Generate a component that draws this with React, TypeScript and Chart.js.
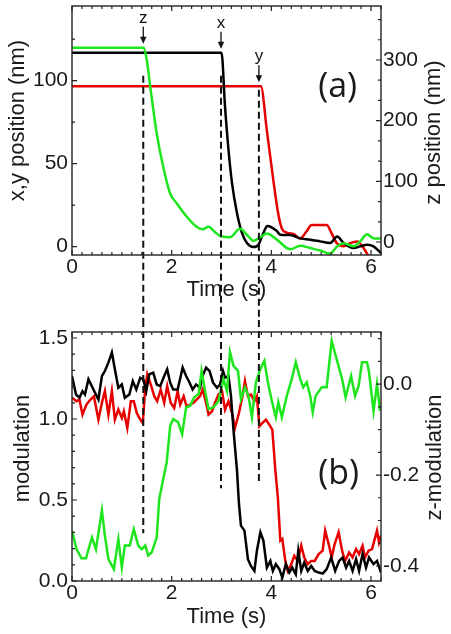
import React, { useEffect, useRef } from 'react';
import { Chart, registerables } from 'chart.js';

Chart.register(...registerables);

type Pt = [number, number];

// ---------------- axis ticks ----------------
const TIME_TICKS = [0, 2, 4, 6];
const XY_TICKS = [0, 50, 100];
const Z_TICKS = [0, 100, 200, 300];
const MOD_TICKS = [0, 0.5, 1.0, 1.5];
const ZMOD_TICKS = [-0.4, -0.2, 0.0];

// ---------------- events (arrows + dashed markers) ----------------
const EVENT_LABELS = ['z', 'x', 'y'];
const EVENT_TIMES = [1.43, 2.99, 3.75];
const EVENT_AXES = ['yr', 'yl', 'yl'];
const EVENT_LEVELS = [320, 116.8, 96.6];
const EVENT_START_XY = [103, 103, 94.6];
const EVENT_END_MOD = [0.294, 0.572, 0.609];

// ---------------- panel (a): positions ----------------
const A_X: Pt[] = [[0, 116.8], [3.0, 116.8], [3.07, 84.5], [3.14, 58.4], [3.21, 38.4], [3.31, 20.3], [3.41, 8.3], [3.51, 2.2], [3.64, -0.2], [3.74, 1.2], [3.84, 8.3], [3.92, 12.5], [4.11, 9.5], [4.18, 7.2], [4.38, 7.0], [4.58, 5.0], [4.78, 4.2], [4.98, 3.2], [5.18, 2.2], [5.32, 6.2], [5.45, 2.2], [5.65, -0.8], [5.78, 0.2], [5.92, 1.2], [6.05, 0.2], [6.2, -3.8]];
const A_Y: Pt[] = [[0, 96.6], [3.79, 96.6], [3.91, 70], [4.04, 40], [4.14, 19.5], [4.21, 11], [4.31, 8.5], [4.45, 7.5], [4.58, 5], [4.70, 9], [4.81, 13], [5.11, 13], [5.21, 8], [5.31, 2.2], [5.45, 0.2], [5.58, 2.2], [5.72, 3.2], [5.85, -0.8], [5.95, -5.8], [6.05, -12]];
const A_Z: Pt[] = [[0, 320], [1.44, 320], [1.50, 300], [1.57, 256], [1.70, 179], [1.83, 124], [1.97, 80], [2.10, 64], [2.30, 42], [2.50, 25], [2.62, 21], [2.74, 25], [2.86, 17], [3.0, 9], [3.17, 8], [3.37, 22], [3.51, 12], [3.64, 2], [3.78, 8], [3.91, 14], [4.11, 4], [4.38, -12], [4.58, -6], [4.78, -10], [4.98, -14], [5.18, -19], [5.31, -8], [5.45, -2], [5.65, -7], [5.78, 1], [5.92, 13], [6.05, 6], [6.2, 6]];

// ---------------- panel (b): modulation ----------------
const B_X: Pt[] = [[0, 1.265], [0.08, 1.151], [0.15, 1.131], [0.21, 1.172], [0.26, 1.151], [0.33, 1.245], [0.43, 1.182], [0.53, 1.120], [0.60, 1.265], [0.66, 1.296], [0.73, 1.348], [0.80, 1.411], [0.86, 1.307], [0.93, 1.193], [1.0, 1.213], [1.06, 1.131], [1.15, 1.151], [1.22, 1.234], [1.29, 1.182], [1.37, 1.255], [1.43, 1.245], [1.49, 1.172], [1.55, 1.276], [1.63, 1.286], [1.70, 1.213], [1.77, 1.203], [1.85, 1.265], [1.91, 1.307], [1.97, 1.224], [2.03, 1.182], [2.12, 1.182], [2.22, 1.317], [2.29, 1.265], [2.36, 1.224], [2.42, 1.182], [2.49, 1.213], [2.57, 1.193], [2.62, 1.265], [2.69, 1.317], [2.76, 1.296], [2.83, 1.224], [2.91, 1.193], [2.97, 1.213], [3.03, 1.296], [3.07, 1.255], [3.14, 1.265], [3.19, 1.141], [3.24, 0.933], [3.31, 0.684], [3.35, 0.477], [3.39, 0.342], [3.46, 0.311], [3.53, 0.135], [3.59, 0.093], [3.66, 0.062], [3.71, 0.187], [3.78, 0.301], [3.84, 0.249], [3.91, 0.083], [3.98, 0.124], [4.03, 0.062], [4.09, 0.104], [4.16, 0.073], [4.22, 0.021], [4.29, 0.104], [4.36, 0.052], [4.42, 0.083], [4.49, 0.042], [4.54, 0.187], [4.60, 0.062], [4.66, 0.114], [4.73, 0.062], [4.80, 0.093], [4.87, 0.062], [4.95, 0.052], [5.03, 0.046], [5.11, 0.073], [5.20, 0.145], [5.28, 0.062], [5.36, 0.124], [5.43, 0.145], [5.50, 0.083], [5.56, 0.124], [5.63, 0.062], [5.70, 0.135], [5.76, 0.062], [5.83, 0.166], [5.90, 0.083], [5.96, 0.145], [6.05, 0.104], [6.12, 0.124], [6.2, 0.052]];
const B_Y: Pt[] = [[0, 1.131], [0.09, 1.110], [0.15, 1.120], [0.21, 1.027], [0.29, 1.089], [0.37, 1.120], [0.44, 1.141], [0.53, 0.996], [0.60, 1.100], [0.66, 1.172], [0.73, 1.027], [0.80, 1.172], [0.86, 0.996], [0.93, 1.058], [1.0, 1.006], [1.04, 1.048], [1.11, 0.944], [1.18, 1.110], [1.24, 1.110], [1.30, 1.037], [1.37, 0.996], [1.42, 0.975], [1.47, 1.193], [1.51, 1.276], [1.58, 1.213], [1.65, 1.141], [1.71, 1.110], [1.78, 1.182], [1.85, 1.100], [1.91, 1.203], [1.98, 1.100], [2.05, 1.068], [2.12, 1.172], [2.17, 1.089], [2.24, 1.141], [2.30, 1.078], [2.37, 1.089], [2.44, 1.100], [2.50, 1.120], [2.57, 1.141], [2.62, 1.182], [2.69, 1.100], [2.74, 1.027], [2.81, 1.048], [2.87, 1.100], [2.94, 1.151], [3.01, 1.172], [3.07, 1.058], [3.14, 1.110], [3.21, 1.037], [3.27, 0.944], [3.35, 1.037], [3.42, 1.141], [3.47, 1.234], [3.53, 1.141], [3.59, 1.151], [3.66, 1.110], [3.71, 1.141], [3.76, 0.954], [3.82, 0.975], [3.89, 0.996], [3.96, 0.965], [4.02, 0.933], [4.08, 0.684], [4.13, 0.518], [4.18, 0.249], [4.22, 0.260], [4.28, 0.124], [4.33, 0.062], [4.40, 0.104], [4.46, 0.156], [4.53, 0.124], [4.60, 0.218], [4.66, 0.145], [4.73, 0.104], [4.80, 0.124], [4.87, 0.124], [4.95, 0.166], [5.03, 0.187], [5.08, 0.311], [5.15, 0.228], [5.21, 0.145], [5.27, 0.228], [5.35, 0.301], [5.42, 0.187], [5.48, 0.124], [5.56, 0.176], [5.63, 0.145], [5.70, 0.197], [5.76, 0.166], [5.83, 0.218], [5.88, 0.145], [5.95, 0.187], [6.02, 0.197], [6.12, 0.311], [6.16, 0.238], [6.2, 0.280]];
const B_Z: Pt[] = [[0, -0.322], [0.09, -0.363], [0.19, -0.383], [0.28, -0.383], [0.40, -0.337], [0.48, -0.363], [0.60, -0.278], [0.66, -0.333], [0.73, -0.385], [0.84, -0.407], [0.93, -0.341], [1.0, -0.403], [1.06, -0.355], [1.16, -0.355], [1.24, -0.319], [1.33, -0.355], [1.40, -0.363], [1.47, -0.355], [1.53, -0.377], [1.60, -0.370], [1.70, -0.337], [1.75, -0.253], [1.83, -0.209], [1.90, -0.172], [1.97, -0.092], [2.03, -0.077], [2.13, -0.084], [2.21, -0.110], [2.29, -0.051], [2.37, -0.048], [2.45, -0.029], [2.54, -0.022], [2.60, 0.029], [2.67, -0.015], [2.74, -0.055], [2.84, -0.051], [2.94, -0.037], [3.04, 0.011], [3.11, -0.015], [3.17, 0.070], [3.24, 0.040], [3.33, 0.029], [3.39, -0.033], [3.47, -0.007], [3.54, -0.026], [3.61, -0.073], [3.69, 0.004], [3.78, 0.033], [3.86, 0.051], [3.93, 0.004], [4.01, -0.037], [4.09, -0.073], [4.14, -0.040], [4.21, -0.073], [4.31, -0.026], [4.41, 0.011], [4.49, 0.048], [4.58, 0.011], [4.64, -0.007], [4.71, 0.004], [4.78, -0.026], [4.83, -0.062], [4.89, -0.026], [4.96, -0.015], [5.01, -0.007], [5.11, -0.007], [5.21, 0.095], [5.31, 0.055], [5.42, 0.011], [5.49, -0.029], [5.60, 0.018], [5.68, -0.026], [5.75, -0.004], [5.82, 0.048], [5.92, 0.048], [5.96, 0.026], [6.05, -0.059], [6.12, 0.0], [6.18, -0.059]];

// ---------------- styles ----------------
const BLACK = '#000000';
const RED = '#e60000';
const GREEN = '#1ee61e';
const INK = '#1a1a1a';
const SANS = '"Liberation Sans", Arial, sans-serif';
const TICK_FONT = { family: SANS, size: 21 };
const TITLE_FONT = { family: SANS, size: 22 };
const W = 451;
const H_A = 320;
const H_B = 314;

function minorValues(min: number, max: number, step: number): number[] {
  const out: number[] = [];
  const start = Math.ceil(min / step - 1e-9);
  for (let k = start; k * step <= max + 1e-9; k++) out.push(k * step);
  return out;
}

function vText(ctx: CanvasRenderingContext2D, text: string, x: number, y: number) {
  ctx.save();
  ctx.translate(x, y);
  ctx.rotate(-Math.PI / 2);
  ctx.font = `22px ${SANS}`;
  ctx.fillStyle = INK;
  ctx.textAlign = 'center';
  ctx.textBaseline = 'middle';
  ctx.fillText(text, 0, 0);
  ctx.restore();
}

function frameAndTicks(chart: any, steps: { x: number; yl: number; yr: number }) {
  const { ctx, chartArea } = chart;
  const { left, right, top, bottom } = chartArea;
  const sx = chart.scales.x, yl = chart.scales.yl, yr = chart.scales.yr;
  const MAJ = 5, MIN = 3;
  ctx.save();
  ctx.strokeStyle = '#222';
  ctx.lineWidth = 1.2;
  ctx.beginPath();
  const seg = (x1: number, y1: number, x2: number, y2: number) => { ctx.moveTo(x1, y1); ctx.lineTo(x2, y2); };
  for (const v of minorValues(sx.min, sx.max, steps.x)) {
    const p = sx.getPixelForValue(v);
    seg(p, bottom, p, bottom - MIN); seg(p, top, p, top + MIN);
  }
  for (const t of sx.ticks) {
    const p = sx.getPixelForValue(t.value);
    seg(p, bottom, p, bottom - MAJ); seg(p, top, p, top + MAJ);
  }
  for (const v of minorValues(yl.min, yl.max, steps.yl)) {
    const p = yl.getPixelForValue(v); seg(left, p, left + MIN, p);
  }
  for (const t of yl.ticks) {
    const p = yl.getPixelForValue(t.value); seg(left, p, left + MAJ, p);
  }
  for (const v of minorValues(yr.min, yr.max, steps.yr)) {
    const p = yr.getPixelForValue(v); seg(right, p, right - MIN, p);
  }
  for (const t of yr.ticks) {
    const p = yr.getPixelForValue(t.value); seg(right, p, right - MAJ, p);
  }
  ctx.stroke();
  ctx.lineWidth = 1.4;
  ctx.strokeRect(left, top, right - left, bottom - top);
  ctx.restore();
}

function dashed(ctx: CanvasRenderingContext2D, x: number, y0: number, y1: number) {
  ctx.save();
  ctx.strokeStyle = '#111';
  ctx.lineWidth = 2;
  ctx.setLineDash([7, 4]);
  ctx.beginPath();
  ctx.moveTo(x, y0);
  ctx.lineTo(x, y1);
  ctx.stroke();
  ctx.restore();
}

const decorA = {
  id: 'decorA',
  afterDatasetsDraw(chart: any) {
    const { ctx } = chart;
    const sx = chart.scales.x, yl = chart.scales.yl;
    EVENT_TIMES.forEach((t, i) => {
      const x = sx.getPixelForValue(t);
      dashed(ctx, x, yl.getPixelForValue(EVENT_START_XY[i]), chart.height);
      const tip = chart.scales[EVENT_AXES[i]].getPixelForValue(EVENT_LEVELS[i]) - 4;
      ctx.save();
      ctx.strokeStyle = '#111';
      ctx.fillStyle = '#111';
      ctx.lineWidth = 1.3;
      ctx.beginPath();
      ctx.moveTo(x, tip - 17);
      ctx.lineTo(x, tip - 6);
      ctx.stroke();
      ctx.beginPath();
      ctx.moveTo(x - 3.2, tip - 7);
      ctx.lineTo(x + 3.2, tip - 7);
      ctx.lineTo(x, tip);
      ctx.closePath();
      ctx.fill();
      ctx.font = `17px ${SANS}`;
      ctx.textAlign = 'center';
      ctx.textBaseline = 'alphabetic';
      ctx.fillText(EVENT_LABELS[i], x, tip - 21);
      ctx.restore();
    });
    ctx.save();
    ctx.font = `34px "Open Sans", sans-serif`;
    ctx.fillStyle = INK;
    ctx.textAlign = 'center';
    ctx.textBaseline = 'middle';
    ctx.fillText('(a)', sx.getPixelForValue(5.33), yl.getPixelForValue(96));
    ctx.restore();
  },
  afterDraw(chart: any) {
    frameAndTicks(chart, { x: 0.2, yl: 25, yr: 100 / 3 });
    const { top, bottom } = chart.chartArea;
    const mid = (top + bottom) / 2;
    vText(chart.ctx, 'x,y position (nm)', 18, mid - 10);
    vText(chart.ctx, 'z position (nm)', 433.5, mid + 2);
  },
};

const decorB = {
  id: 'decorB',
  afterDatasetsDraw(chart: any) {
    const { ctx } = chart;
    const sx = chart.scales.x, yl = chart.scales.yl;
    EVENT_TIMES.forEach((t, i) => {
      dashed(ctx, sx.getPixelForValue(t), 0, yl.getPixelForValue(EVENT_END_MOD[i]));
    });
    ctx.save();
    ctx.font = `34px "Open Sans", sans-serif`;
    ctx.fillStyle = INK;
    ctx.textAlign = 'center';
    ctx.textBaseline = 'middle';
    ctx.fillText('(b)', sx.getPixelForValue(5.35), yl.getPixelForValue(0.66));
    ctx.restore();
  },
  afterDraw(chart: any) {
    frameAndTicks(chart, { x: 0.2, yl: 0.1, yr: 0.05 });
    const { top, bottom } = chart.chartArea;
    const mid = (top + bottom) / 2;
    vText(chart.ctx, 'modulation', 22.5, mid - 8);
    vText(chart.ctx, 'z-modulation', 435, mid + 1);
  },
};

function fixedTicks(values: number[]) {
  return (scale: any) => { scale.ticks = values.map((v) => ({ value: v })); };
}

function buildConfig(p: {
  series: { data: Pt[]; color: string; axis: string }[];
  smooth: boolean;
  padTop: number; padBottom: number; xHeight: number;
  yl: { min: number; max: number; ticks: number[]; fmt: (v: number) => string };
  yr: { min: number; max: number; ticks: number[]; fmt: (v: number) => string };
  plugin: any;
}) {
  const yBase = (side: 'left' | 'right', cfg: any, width: number) => ({
    type: 'linear',
    position: side,
    min: cfg.min,
    max: cfg.max,
    grid: { display: false, drawTicks: false },
    border: { display: false },
    title: { display: false },
    ticks: { font: TICK_FONT, color: INK, padding: side === 'left' ? 4 : 2, callback: (v: any) => cfg.fmt(Number(v)) },
    afterBuildTicks: fixedTicks(cfg.ticks),
    afterFit: (s: any) => { s.width = width; s.paddingTop = 0; s.paddingBottom = 0; },
  });
  return {
    type: 'line',
    data: {
      datasets: p.series.map((s) => ({
        data: s.data.map(([x, y]) => ({ x, y })),
        borderColor: s.color,
        borderWidth: 2.5,
        pointRadius: 0,
        fill: false,
        yAxisID: s.axis,
        cubicInterpolationMode: p.smooth ? 'monotone' : 'default',
        tension: 0,
      })),
    },
    options: {
      animation: false,
      responsive: false,
      events: [],
      parsing: false,
      layout: { autoPadding: false, padding: { left: 0, right: 0, top: p.padTop, bottom: p.padBottom } },
      plugins: { legend: { display: false }, tooltip: { enabled: false }, title: { display: false } },
      scales: {
        x: {
          type: 'linear',
          position: 'bottom',
          min: 0,
          max: 6.2,
          grid: { display: false, drawTicks: false },
          border: { display: false },
          ticks: { font: TICK_FONT, color: INK, padding: 0, callback: (v: any) => String(v) },
          afterBuildTicks: fixedTicks(TIME_TICKS),
          afterFit: (s: any) => { s.height = p.xHeight; s.paddingLeft = 0; s.paddingRight = 0; },
          title: { display: true, text: 'Time (s)', font: TITLE_FONT, color: INK, padding: 0 },
        },
        yl: yBase('left', p.yl, 72),
        yr: yBase('right', p.yr, 70),
      },
    },
    plugins: [p.plugin],
  };
}

function ChartCanvas({ config, width, height, top }: { config: () => any; width: number; height: number; top: number }) {
  const ref = useRef<HTMLCanvasElement | null>(null);
  useEffect(() => {
    if (!ref.current) return;
    const chart = new Chart(ref.current, config());
    return () => chart.destroy();
  }, []);
  return (
    <canvas
      ref={ref}
      width={width}
      height={height}
      style={{ position: 'absolute', left: 0, top, width, height, display: 'block' }}
    />
  );
}

export default function App() {
  const cfgA = () =>
    buildConfig({
      series: [
        { data: A_Z, color: GREEN, axis: 'yr' },
        { data: A_X, color: BLACK, axis: 'yl' },
        { data: A_Y, color: RED, axis: 'yl' },
      ],
      smooth: true,
      padTop: 6,
      padBottom: 17,
      xHeight: 48,
      yl: { min: -5, max: 145, ticks: XY_TICKS, fmt: (v) => String(v) },
      yr: { min: -21.4, max: 389, ticks: Z_TICKS, fmt: (v) => String(v) },
      plugin: decorA,
    });
  const cfgB = () =>
    buildConfig({
      series: [
        { data: B_Z, color: GREEN, axis: 'yr' },
        { data: B_X, color: BLACK, axis: 'yl' },
        { data: B_Y, color: RED, axis: 'yl' },
      ],
      smooth: false,
      padTop: 12,
      padBottom: 4,
      xHeight: 49,
      yl: { min: 0, max: 1.537, ticks: MOD_TICKS, fmt: (v) => v.toFixed(1) },
      yr: { min: -0.433, max: 0.1145, ticks: ZMOD_TICKS, fmt: (v) => (Math.abs(v) < 1e-9 ? '0.0' : v.toFixed(1)) },
      plugin: decorB,
    });
  return (
    <div style={{ position: 'absolute', left: 0, top: 0, width: W, height: H_A + H_B, background: '#fff', overflow: 'hidden' }}>
      <ChartCanvas config={cfgA} width={W} height={H_A} top={0} />
      <ChartCanvas config={cfgB} width={W} height={H_B} top={H_A} />
    </div>
  );
}
